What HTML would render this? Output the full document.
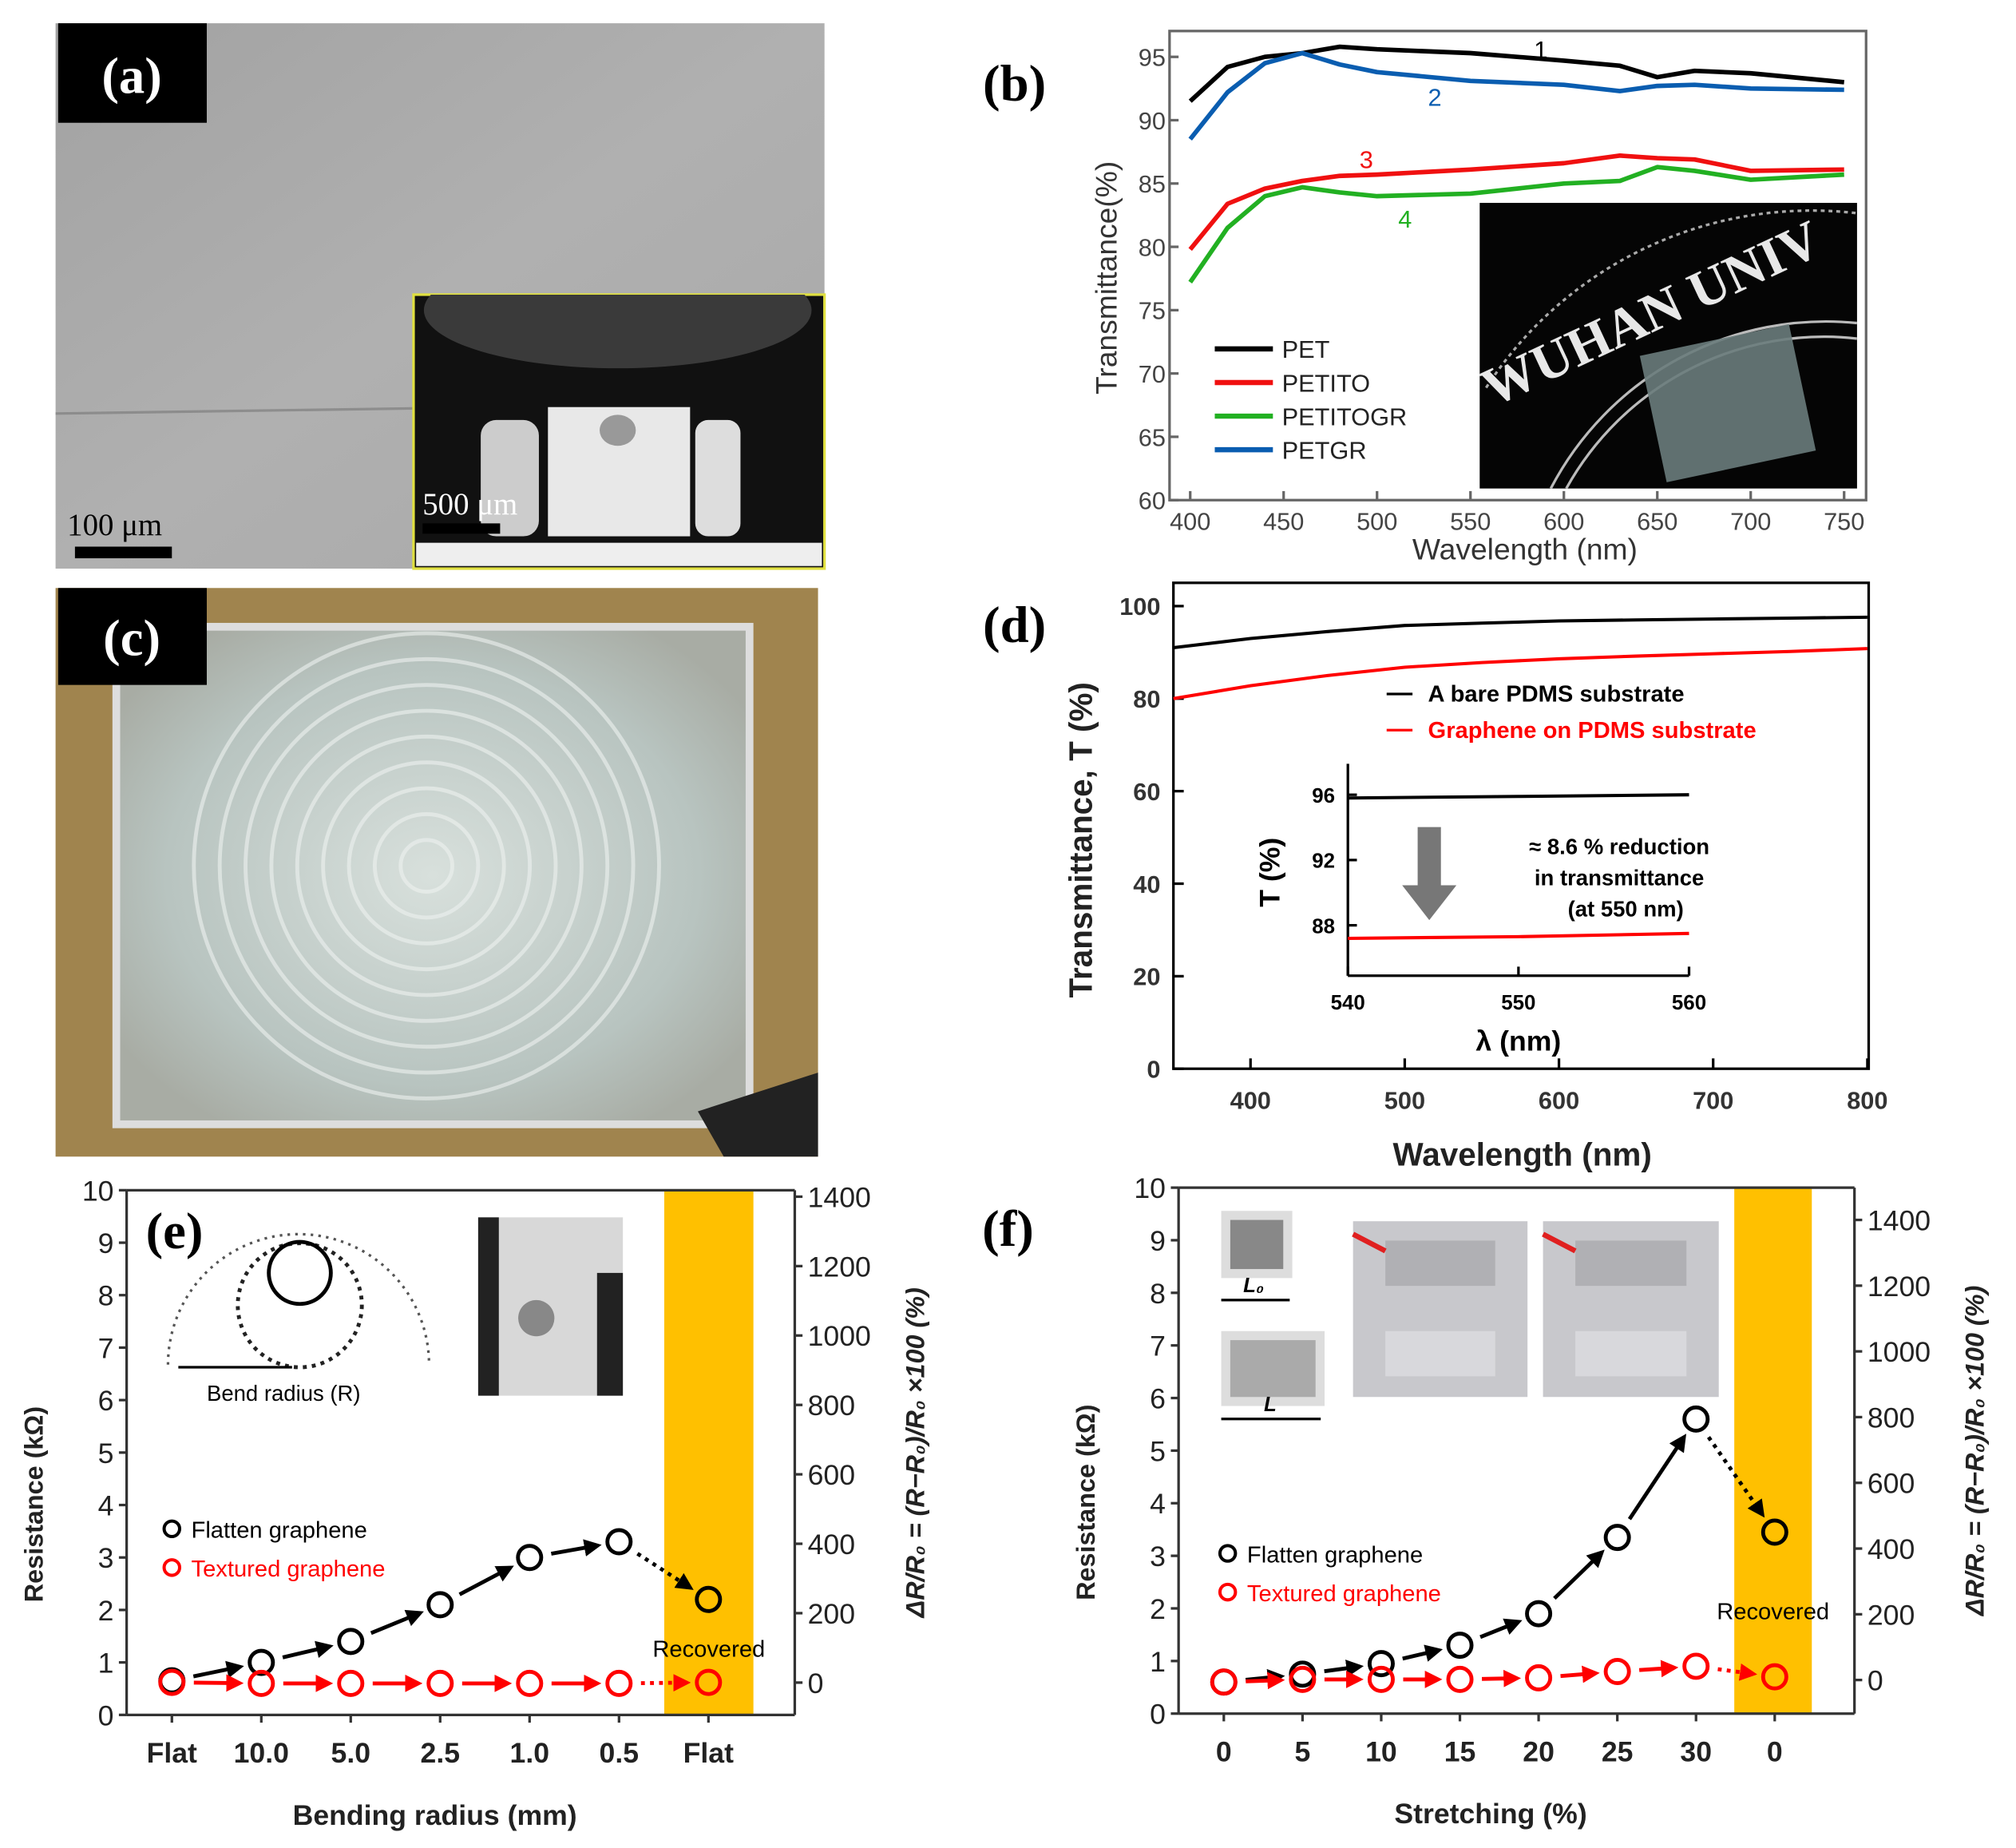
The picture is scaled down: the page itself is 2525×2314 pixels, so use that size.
<!DOCTYPE html>
<html><head><meta charset="utf-8"><style>
html,body{margin:0;padding:0;background:#fff;}
svg{display:block;font-family:"Liberation Sans",Arial,sans-serif;}
.pl{font-family:"Liberation Serif",serif;font-weight:bold;fill:#fff;font-size:40px;}
</style></head><body>
<svg id="fig" width="2525" height="2314" viewBox="0 0 1560 1430" preserveAspectRatio="none" xmlns="http://www.w3.org/2000/svg">
<defs>
<linearGradient id="ga" x1="0" y1="0" x2="1" y2="1"><stop offset="0" stop-color="#a2a2a2"/><stop offset="0.5" stop-color="#b0b0b0"/><stop offset="1" stop-color="#a8a8a8"/></linearGradient>
<radialGradient id="gc" cx="0.5" cy="0.5" r="0.6"><stop offset="0" stop-color="#d8e0dc"/><stop offset="0.7" stop-color="#b8c4c0"/><stop offset="1" stop-color="#a8aca4"/></radialGradient>
<marker id="ak" viewBox="0 0 8 8" markerWidth="4.5" markerHeight="4.5" refX="6" refY="4" orient="auto"><path d="M0,0 L8,4 L0,8 z" fill="#000"/></marker>
<marker id="ar" viewBox="0 0 8 8" markerWidth="4.5" markerHeight="4.5" refX="6" refY="4" orient="auto"><path d="M0,0 L8,4 L0,8 z" fill="#f00"/></marker>
<clipPath id="cb"><rect x="1145" y="157" width="292" height="221"/></clipPath>
<clipPath id="ca"><rect x="320" y="228" width="318" height="212"/></clipPath>
</defs>
<!-- panel a -->
<g>
<rect x="43" y="18" width="595" height="422" fill="url(#ga)"/>
<line x1="43" y1="320" x2="320" y2="316" stroke="#777" stroke-width="2" opacity="0.6"/>
<rect x="45" y="18" width="115" height="77" fill="#000"/>
<text class="pl" x="102" y="72" text-anchor="middle">(a)</text>
<rect x="320" y="228" width="318" height="212" fill="#111" stroke="#e0e040" stroke-width="2"/>
<g clip-path="url(#ca)">
<ellipse cx="478" cy="240" rx="150" ry="45" fill="#3a3a3a"/>
</g>
<rect x="424" y="315" width="110" height="100" fill="#e8e8e8"/>
<ellipse cx="478" cy="333" rx="14" ry="12" fill="#999"/>
<rect x="372" y="325" width="45" height="90" rx="12" fill="#ccc"/>
<rect x="538" y="325" width="35" height="90" rx="10" fill="#ddd"/>
<rect x="322" y="420" width="314" height="18" fill="#eee"/>
<text x="327" y="398" font-family="Liberation Serif" font-size="24" fill="#fff">500 μm</text>
<rect x="327" y="405" width="60" height="8" fill="#000"/>
<text x="52" y="414" font-family="Liberation Serif" font-size="24" fill="#000">100 μm</text>
<rect x="58" y="423" width="75" height="9" fill="#000"/>
</g>
<!-- panel c -->
<g>
<rect x="43" y="455" width="590" height="440" fill="#a0844e"/>
<rect x="90" y="485" width="490" height="385" fill="url(#gc)" stroke="#ddd" stroke-width="6"/>
<g fill="none" stroke="#eef2f0" stroke-width="3" opacity="0.6">
<circle cx="330" cy="670" r="20"/><circle cx="330" cy="670" r="40"/><circle cx="330" cy="670" r="60"/><circle cx="330" cy="670" r="80"/><circle cx="330" cy="670" r="100"/><circle cx="330" cy="670" r="120"/><circle cx="330" cy="670" r="140"/><circle cx="330" cy="670" r="160"/><circle cx="330" cy="670" r="180"/>
</g>
<polygon points="540,860 633,830 633,895 560,895" fill="#222"/>
<rect x="45" y="455" width="115" height="75" fill="#000"/>
<text class="pl" x="102" y="507" text-anchor="middle">(c)</text>
</g>
<g id="pb"></g>
<g id="pd"></g>
<g id="pe"></g>
<g id="pf"></g>
</svg>
<script>
// ---- panel b data ----
const bWave=[400,420,440,460,480,500,550,600,630,650,670,700,750];
const bPET=[91.5,94.2,95,95.3,95.8,95.6,95.3,94.7,94.3,93.4,93.9,93.7,93];
const bPETGR=[88.5,92.2,94.5,95.3,94.4,93.8,93.1,92.8,92.3,92.7,92.8,92.5,92.4];
const bPETITO=[79.8,83.4,84.6,85.2,85.6,85.7,86.1,86.6,87.2,87,86.9,86,86.1];
const bPETITOGR=[77.2,81.5,84,84.7,84.3,84,84.2,85,85.2,86.3,86,85.3,85.7];
const bYTicks=[60,65,70,75,80,85,90,95];
const bXTicks=[400,450,500,550,600,650,700,750];
// ---- panel d data ----
const dWave=[350,400,450,500,550,600,650,700,750,800];
const dBare=[91,93,94.5,95.8,96.3,96.8,97,97.2,97.4,97.6];
const dGraphene=[80,82.8,85,86.8,87.8,88.6,89.2,89.7,90.2,90.8];
const dYTicks=[0,20,40,60,80,100];
const dXTicks=[400,500,600,700,800];
const dInsetBare=[95.8,95.9,96.0];
const dInsetGraphene=[87.2,87.3,87.5];
const dInsetWave=[540,550,560];
// ---- panel e data ----
const eCats=["Flat","10.0","5.0","2.5","1.0","0.5","Flat"];
const eFlatten=[0.65,1.0,1.4,2.1,3.0,3.3,2.2];
const eTextured=[0.62,0.6,0.6,0.6,0.6,0.6,0.62];
const eRightTicks=[0,200,400,600,800,1000,1200,1400];
// ---- panel f data ----
const fCats=["0","5","10","15","20","25","30","0"];
const fFlatten=[0.6,0.75,0.95,1.3,1.9,3.35,5.6,3.45];
const fTextured=[0.6,0.65,0.65,0.65,0.68,0.8,0.9,0.7];
const fRightTicks=[0,200,400,600,800,1000,1200,1400];
const resTicks=[0,1,2,3,4,5,6,7,8,9,10];

const NS="http://www.w3.org/2000/svg";
function mk(p,tag,a,txt){const e=document.createElementNS(NS,tag);for(const k in a)e.setAttribute(k,a[k]);if(txt!==undefined)e.textContent=txt;p.appendChild(e);return e;}
function lin(d0,d1,r0,r1){return v=>r0+(v-d0)/(d1-d0)*(r1-r0);}
function pts(xs,ys,X,Y){return xs.map((x,i)=>X(x).toFixed(1)+","+Y(ys[i]).toFixed(1)).join(" ");}

// ===== panel b =====
(function(){
const g=document.getElementById('pb');
const X=lin(400,750,921,1427),Y=lin(60,95,387,44);
let r=mk(g,'rect',{x:905,y:24,width:539,height:363,fill:'none',stroke:'#666','stroke-width':2});


let ph=mk(g,'rect',{x:1145,y:157,width:292,height:221,fill:'#050505'});


const cg=mk(g,'g',{'clip-path':'url(#cb)'});
mk(cg,'path',{d:'M1150,300 A300,300 0 0 1 1437,165',fill:'none',stroke:'#aaa','stroke-width':2,'stroke-dasharray':'3,3'});
mk(cg,'path',{d:'M1200,378 A240,240 0 0 1 1437,250',fill:'none',stroke:'#bbb','stroke-width':2});
mk(cg,'path',{d:'M1212,378 A228,228 0 0 1 1437,262',fill:'none',stroke:'#bbb','stroke-width':2});
mk(cg,'text',{x:1155,y:315,fill:'#e8e8e8','font-family':'Liberation Serif','font-weight':'bold','font-size':42,transform:'rotate(-25 1155 315)'},'WUHAN UNIV');
mk(cg,'rect',{x:1278,y:262,width:118,height:100,fill:'#6a7c7c',transform:'rotate(-12 1337 312)',opacity:0.9});
bYTicks.forEach(v=>{mk(g,'line',{x1:905,x2:912,y1:Y(v),y2:Y(v),stroke:'#666','stroke-width':2});
 const t=mk(g,'text',{x:902,y:Y(v)+7,'text-anchor':'end','font-size':19,fill:'#444'},v);
 
 });
bXTicks.forEach(v=>{mk(g,'line',{x1:X(v),x2:X(v),y1:387,y2:380,stroke:'#666','stroke-width':2});
 const t=mk(g,'text',{x:X(v),y:410,'text-anchor':'middle','font-size':19,fill:'#444'},v);
 
 });
let xt=mk(g,'text',{x:1180,y:433,'text-anchor':'middle','font-size':23,fill:'#333'},'Wavelength (nm)');


let yt=mk(g,'text',{x:0,y:0,'text-anchor':'middle','font-size':23,fill:'#333',transform:'translate(864 215) rotate(-90)'},'Transmittance(%)');


const series=[[bPET,'#000','PET'],[bPETGR,'#0a5db0','PETGR'],[bPETITO,'#f01010','PETITO'],[bPETITOGR,'#22b022','PETITOGR']];
series.forEach(s=>{const l=mk(g,'polyline',{points:pts(bWave,s[0],X,Y),fill:'none',stroke:s[1],'stroke-width':3.5,'stroke-linejoin':'round'});
 
 });
mk(g,'text',{x:1187,y:45,'font-size':19},'1');
mk(g,'text',{x:1105,y:82,'font-size':19,fill:'#0a5db0'},'2');
mk(g,'text',{x:1052,y:130,'font-size':19,fill:'#f01010'},'3');
mk(g,'text',{x:1082,y:176,'font-size':19,fill:'#22b022'},'4');
const leg=[['PET','#000'],['PETITO','#f01010'],['PETITOGR','#22b022'],['PETGR','#0a5db0']];
leg.forEach((s,i)=>{const y=270+i*26;
 const e=mk(g,'g',{});
 
 
 mk(e,'line',{x1:940,x2:985,y1:y,y2:y,stroke:s[1],'stroke-width':4});
 mk(e,'text',{x:992,y:y+7,'font-size':19,fill:'#222'},s[0]);});
mk(g,'text',{x:785,y:78,'text-anchor':'middle','font-family':'Liberation Serif','font-weight':'bold','font-size':40},'(b)');
})();

// ===== panel d =====
(function(){
const g=document.getElementById('pd');
mk(g,'text',{x:785,y:497,'text-anchor':'middle','font-family':'Liberation Serif','font-weight':'bold','font-size':40},'(d)');
const X=lin(350,800,908,1445),Y=lin(0,100,827,469);
let r=mk(g,'rect',{x:908,y:451,width:538,height:376,fill:'none',stroke:'#000','stroke-width':2});


dYTicks.forEach(v=>{mk(g,'line',{x1:908,x2:916,y1:Y(v),y2:Y(v),stroke:'#000','stroke-width':2});
 const t=mk(g,'text',{x:898,y:Y(v)+7,'text-anchor':'end','font-size':19,'font-weight':'bold',fill:'#333'},v);
 
 });
dXTicks.forEach(v=>{mk(g,'line',{x1:X(v),x2:X(v),y1:827,y2:819,stroke:'#000','stroke-width':2});
 const t=mk(g,'text',{x:X(v),y:858,'text-anchor':'middle','font-size':19,'font-weight':'bold',fill:'#333'},v);
 
 });
let xt=mk(g,'text',{x:1178,y:902,'text-anchor':'middle','font-size':25,'font-weight':'bold',fill:'#222'},'Wavelength (nm)');


let yt=mk(g,'text',{x:0,y:0,'text-anchor':'middle','font-size':25,'font-weight':'bold',fill:'#222',transform:'translate(845 650) rotate(-90)'},'Transmittance, T (%)');


let l1=mk(g,'polyline',{points:pts(dWave,dBare,X,Y),fill:'none',stroke:'#000','stroke-width':2.5});


let l2=mk(g,'polyline',{points:pts(dWave,dGraphene,X,Y),fill:'none',stroke:'#f00','stroke-width':2.5});


const leg=[['A bare PDMS substrate','#000',543],['Graphene on PDMS substrate','#f00',571]];
leg.forEach(s=>{const e=mk(g,'g',{});
 
 
 mk(e,'line',{x1:1073,x2:1093,y1:s[2]-6,y2:s[2]-6,stroke:s[1],'stroke-width':2});
 mk(e,'text',{x:1105,y:s[2],'font-size':18,'font-weight':'bold',fill:s[1]},s[0]);});
const IX=lin(540,560,1043,1307),IY=lin(88,96,716,615);
mk(g,'line',{x1:1043,x2:1043,y1:591,y2:755,stroke:'#000','stroke-width':2});
mk(g,'line',{x1:1043,x2:1307,y1:755,y2:755,stroke:'#000','stroke-width':2});
[88,92,96].forEach(v=>{mk(g,'line',{x1:1043,x2:1050,y1:IY(v),y2:IY(v),stroke:'#000','stroke-width':2});
 const t=mk(g,'text',{x:1033,y:IY(v)+6,'text-anchor':'end','font-size':16,'font-weight':'bold'},v);
 
 });
[540,550,560].forEach(v=>{mk(g,'line',{x1:IX(v),x2:IX(v),y1:755,y2:748,stroke:'#000','stroke-width':2});
 const t=mk(g,'text',{x:IX(v),y:781,'text-anchor':'middle','font-size':16,'font-weight':'bold'},v);
 
 });
mk(g,'text',{x:1175,y:813,'text-anchor':'middle','font-size':22,'font-weight':'bold'},'λ (nm)');
mk(g,'text',{x:0,y:0,'text-anchor':'middle','font-size':22,'font-weight':'bold',transform:'translate(990 675) rotate(-90)'},'T (%)');
let il1=mk(g,'polyline',{points:pts(dInsetWave,dInsetBare,IX,IY),fill:'none',stroke:'#000','stroke-width':2.5});


let il2=mk(g,'polyline',{points:pts(dInsetWave,dInsetGraphene,IX,IY),fill:'none',stroke:'#f00','stroke-width':2.5});


let ar=mk(g,'path',{d:'M1097,640 L1115,640 L1115,685 L1127,685 L1106,712 L1085,685 L1097,685 Z',fill:'#777'});


mk(g,'text',{x:1253,y:661,'text-anchor':'middle','font-size':17,'font-weight':'bold'},'≈ 8.6 % reduction');
mk(g,'text',{x:1253,y:685,'text-anchor':'middle','font-size':17,'font-weight':'bold'},'in transmittance');
mk(g,'text',{x:1258,y:709,'text-anchor':'middle','font-size':17,'font-weight':'bold'},'(at 550 nm)');
})();

// ===== panels e,f =====
function resPanel(id,o){
const g=document.getElementById(id);
const Y=lin(0,10,o.y0,o.y10);
const X=i=>o.c0+i*o.dc;
let band=mk(g,'rect',{x:o.b0,y:o.y10,width:o.b1-o.b0,height:o.y0-o.y10,fill:'#ffc000'});


mk(g,'line',{x1:o.L,x2:o.R,y1:o.y10,y2:o.y10,stroke:'#333','stroke-width':2});
mk(g,'line',{x1:o.L,x2:o.L,y1:o.y10,y2:o.y0,stroke:'#333','stroke-width':2});
mk(g,'line',{x1:o.R,x2:o.R,y1:o.y10,y2:o.y0,stroke:'#333','stroke-width':2});
mk(g,'line',{x1:o.L,x2:o.R,y1:o.y0,y2:o.y0,stroke:'#333','stroke-width':2});
resTicks.forEach(v=>{mk(g,'line',{x1:o.L-6,x2:o.L,y1:Y(v),y2:Y(v),stroke:'#333','stroke-width':2});
 const t=mk(g,'text',{x:o.L-10,y:Y(v)+8,'text-anchor':'end','font-size':22,fill:'#222'},v);
 
 });
const RY=lin(0,1400,o.r0,o.r1400);
o.rt.forEach(v=>{mk(g,'line',{x1:o.R,x2:o.R+6,y1:RY(v),y2:RY(v),stroke:'#333','stroke-width':2});
 const t=mk(g,'text',{x:o.R+10,y:RY(v)+8,'font-size':22,fill:'#222'},v);
 
 });
o.cats.forEach((c,i)=>{mk(g,'line',{x1:X(i),x2:X(i),y1:o.y0,y2:o.y0+6,stroke:'#333','stroke-width':2});
 const t=mk(g,'text',{x:X(i),y:o.y0+37,'text-anchor':'middle','font-size':22,'font-weight':'bold',fill:'#222'},c);
 
 });
let xt=mk(g,'text',{x:(o.L+o.R)/2-20,y:o.y0+85,'text-anchor':'middle','font-size':22,'font-weight':'bold',fill:'#222'},o.xtitle);


let yt=mk(g,'text',{x:0,y:0,'text-anchor':'middle','font-size':20,'font-weight':'bold',fill:'#222',transform:`translate(${o.L-65} ${(o.y0+o.y10)/2+40}) rotate(-90)`},'Resistance (kΩ)');


let ry=mk(g,'text',{x:0,y:0,'text-anchor':'middle','font-size':20,'font-weight':'bold','font-style':'italic',fill:'#222',transform:`translate(${o.R+100} ${(o.y0+o.y10)/2}) rotate(-90)`},'ΔR/R₀ = (R−R₀)/R₀ ×100 (%)');


function series(vals,col,mkr,nm){const n=vals.length;
 for(let i=0;i<n-1;i++){const x1=X(i),y1=Y(vals[i]),x2=X(i+1),y2=Y(vals[i+1]);
  const dx=x2-x1,dy=y2-y1,L=Math.hypot(dx,dy),ux=dx/L,uy=dy/L;
  const s=mk(g,'line',{x1:x1+ux*17,y1:y1+uy*17,x2:x2-ux*17,y2:y2-uy*17,stroke:col,'stroke-width':3,'marker-end':`url(#${mkr})`,'stroke-dasharray':i==n-2?'3,4':'none'});
  
  }
 vals.forEach((v,i)=>{const c=mk(g,'circle',{cx:X(i),cy:Y(v),r:9,fill:'none',stroke:col,'stroke-width':3});
  
  });}
series(o.flat,'#000','ak','flatten');
series(o.tex,'#f00','ar','textured');
const l1=mk(g,'g',{});


mk(l1,'circle',{cx:o.lx,cy:o.ly,r:6,fill:'none',stroke:'#000','stroke-width':2.5});
mk(l1,'text',{x:o.lx+15,y:o.ly+7,'font-size':18,fill:'#000'},'Flatten graphene');
const l2=mk(g,'g',{});


mk(l2,'circle',{cx:o.lx,cy:o.ly+30,r:6,fill:'none',stroke:'#f00','stroke-width':2.5});
mk(l2,'text',{x:o.lx+15,y:o.ly+37,'font-size':18,fill:'#f00'},'Textured graphene');
mk(g,'text',{x:(o.b0+o.b1)/2,y:o.recY,'text-anchor':'middle','font-size':18,fill:'#000'},'Recovered');
mk(g,'text',{x:o.plx,y:o.y10+45,'text-anchor':'middle','font-family':'Liberation Serif','font-weight':'bold','font-size':40},o.label);
return g;}
const ge=resPanel('pe',{L:98,R:615,y0:1327,y10:921,c0:133,dc:69.2,b0:514,b1:583,r0:1302,r1400:926,rt:eRightTicks,cats:eCats,flat:eFlatten,tex:eTextured,xtitle:'Bending radius (mm)',lx:133,ly:1183,recY:1282,plx:135,label:'(e)'});
const gf=resPanel('pf',{L:912,R:1435,y0:1326,y10:919,c0:947,dc:60.9,b0:1342,b1:1402,r0:1300,r1400:944,rt:fRightTicks,cats:fCats,flat:fFlatten,tex:fTextured,xtitle:'Stretching (%)',lx:950,ly:1202,recY:1253,plx:780,label:'(f)'});
(function(g){
mk(g,'path',{d:'M130,1056 A100,100 0 0 1 332,1056',fill:'none',stroke:'#555','stroke-width':2,'stroke-dasharray':'2,4'});
mk(g,'circle',{cx:232,cy:1010,r:48,fill:'none',stroke:'#222','stroke-width':3,'stroke-dasharray':'3,4'});
mk(g,'circle',{cx:232,cy:985,r:24,fill:'none',stroke:'#000','stroke-width':3});
mk(g,'line',{x1:138,x2:226,y1:1058,y2:1058,stroke:'#000','stroke-width':2});
mk(g,'text',{x:160,y:1084,'font-size':17},'Bend radius (R)');
const p=mk(g,'rect',{x:370,y:942,width:112,height:138,fill:'#d8d8d8'});


mk(g,'rect',{x:370,y:942,width:16,height:138,fill:'#222'});
mk(g,'rect',{x:462,y:985,width:20,height:95,fill:'#222'});
mk(g,'circle',{cx:415,cy:1020,r:14,fill:'#888'});
})(ge);
(function(g){
mk(g,'rect',{x:945,y:937,width:55,height:52,fill:'#ddd'});
mk(g,'rect',{x:952,y:944,width:41,height:38,fill:'#888'});
mk(g,'line',{x1:945,x2:998,y1:1006,y2:1006,stroke:'#000','stroke-width':2});
mk(g,'text',{x:962,y:1000,'font-size':16,'font-style':'italic','font-weight':'bold'},'L₀');
mk(g,'rect',{x:945,y:1030,width:80,height:58,fill:'#ddd'});
mk(g,'rect',{x:952,y:1037,width:66,height:44,fill:'#aaa'});
mk(g,'line',{x1:945,x2:1022,y1:1098,y2:1098,stroke:'#000','stroke-width':2});
mk(g,'text',{x:978,y:1092,'font-size':16,'font-style':'italic','font-weight':'bold'},'L');
[[1047,1182],[1194,1330]].forEach(a=>{const p=mk(g,'rect',{x:a[0],y:945,width:a[1]-a[0],height:136,fill:'#c8c8cc'});
 
 
 mk(g,'rect',{x:a[0]+25,y:960,width:a[1]-a[0]-50,height:35,fill:'#b0b0b4'});
 mk(g,'rect',{x:a[0]+25,y:1030,width:a[1]-a[0]-50,height:35,fill:'#d8d8dc'});
 mk(g,'line',{x1:a[0],x2:a[0]+25,y1:955,y2:968,stroke:'#e02020','stroke-width':4});});
})(gf);
</script>
</body></html>
